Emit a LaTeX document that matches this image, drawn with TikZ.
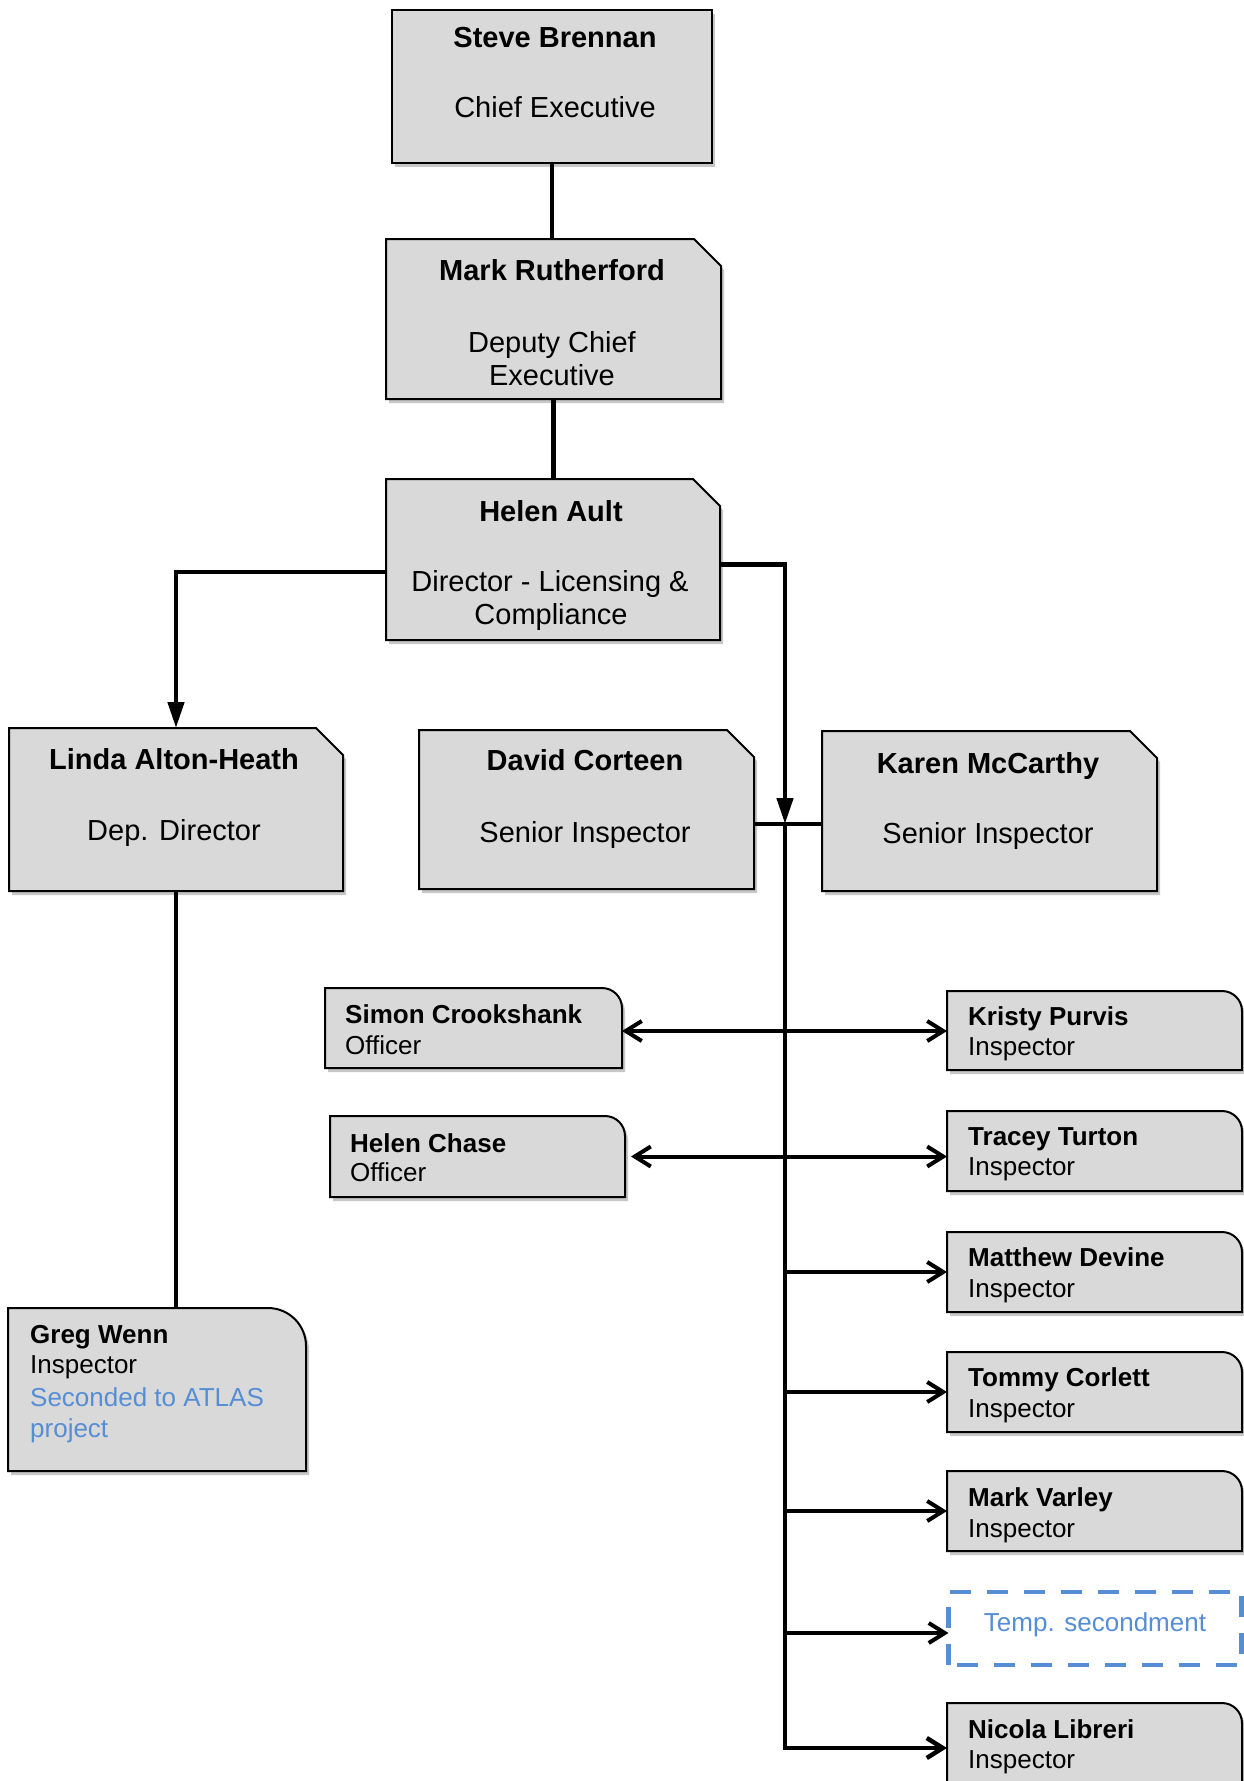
\documentclass[tikz,border=0pt]{standalone}
\usepackage{fontspec}
\setmainfont{Liberation Sans}
\usetikzlibrary{arrows.meta,calc}
\definecolor{boxgray}{HTML}{D9D9D9}
\definecolor{linkblue}{HTML}{558ED5}
\tikzset{
  boxn/.style={rectangle, inner sep=0pt, outer sep=0pt},
  boxst/.style={fill=boxgray, draw=black, line width=2pt},
  shadowst/.style={fill=black, fill opacity=0.22, draw=none, transform canvas={xshift=3pt,yshift=-4pt}},
  dashst/.style={draw=linkblue, line width=4.5pt, dash pattern=on 21pt off 16pt},
  nm/.style={font=\fontsize{29}{34}\selectfont\bfseries, inner sep=0pt, anchor=base},
  rl/.style={font=\fontsize{29}{34}\selectfont, inner sep=0pt, anchor=base},
  snm/.style={font=\fontsize{26}{31}\selectfont\bfseries, inner sep=0pt, anchor=base west},
  srl/.style={font=\fontsize{26}{31}\selectfont, inner sep=0pt, anchor=base west},
  conn/.style={line width=4.5pt},
  sconn/.style={line width=4pt},
  bigtip/.style={-{Triangle[length=26pt,width=16pt]}},
  barb/.style={-{Straight Barb[length=16pt,width=20pt]}},
  dbarb/.style={{Straight Barb[length=16pt,width=20pt]}-{Straight Barb[length=16pt,width=20pt]}}
}
\newcommand\chamshape[2]{\path[#2] (#1.south west) -- (#1.north west) -- ($(#1.north east)+(-27,0)$) -- ($(#1.north east)+(0,27)$) -- (#1.south east) -- cycle;}
\newcommand\rectshape[2]{\path[#2] (#1.south west) rectangle (#1.north east);}
\newcommand\roundshape[3]{\path[#2] (#1.south west) -- (#1.north west) -- ($(#1.north east)+(-#3,0)$) arc[start angle=90,end angle=0,radius=#3pt] -- (#1.south east) -- cycle;}
\begin{document}
\begin{tikzpicture}[x=1pt,y=-1pt]
\useasboundingbox (0,0) rectangle (1243,1781);
\fill[white] (0,0) rectangle (1243,1781);
% box nodes
\node[boxn, minimum width=320pt, minimum height=153pt] (sb) at (552,86.5) {};
\node[boxn, minimum width=335pt, minimum height=160pt] (mr) at (553.5,319) {};
\node[boxn, minimum width=334pt, minimum height=161pt] (ha) at (553,559.5) {};
\node[boxn, minimum width=334pt, minimum height=163pt] (la) at (176,809.5) {};
\node[boxn, minimum width=335pt, minimum height=159pt] (dc) at (586.5,809.5) {};
\node[boxn, minimum width=335pt, minimum height=160pt] (km) at (989.5,811) {};
\node[boxn, minimum width=297pt, minimum height=80pt] (sc) at (473.5,1028) {};
\node[boxn, minimum width=295pt, minimum height=81pt] (hc) at (477.5,1156.5) {};
\node[boxn, minimum width=295pt, minimum height=79pt] (kp) at (1094.5,1030.5) {};
\node[boxn, minimum width=295pt, minimum height=80pt] (tt) at (1094.5,1151) {};
\node[boxn, minimum width=295pt, minimum height=80pt] (md) at (1094.5,1272) {};
\node[boxn, minimum width=295pt, minimum height=80pt] (tc) at (1094.5,1392) {};
\node[boxn, minimum width=295pt, minimum height=80pt] (mv) at (1094.5,1511) {};
\node[boxn, minimum width=293pt, minimum height=73pt] (ts) at (1095,1628.5) {};
\node[boxn, minimum width=295pt, minimum height=90pt] (nl) at (1094.5,1748) {};
\node[boxn, minimum width=298pt, minimum height=163pt] (gw) at (157,1389.5) {};
% shapes
\rectshape{sb}{shadowst}\rectshape{sb}{boxst}
\chamshape{mr}{shadowst}\chamshape{mr}{boxst}
\chamshape{ha}{shadowst}\chamshape{ha}{boxst}
\chamshape{la}{shadowst}\chamshape{la}{boxst}
\chamshape{dc}{shadowst}\chamshape{dc}{boxst}
\chamshape{km}{shadowst}\chamshape{km}{boxst}
\roundshape{sc}{shadowst}{20}\roundshape{sc}{boxst}{20}
\roundshape{hc}{shadowst}{20}\roundshape{hc}{boxst}{20}
\roundshape{kp}{shadowst}{20}\roundshape{kp}{boxst}{20}
\roundshape{tt}{shadowst}{20}\roundshape{tt}{boxst}{20}
\roundshape{md}{shadowst}{20}\roundshape{md}{boxst}{20}
\roundshape{tc}{shadowst}{20}\roundshape{tc}{boxst}{20}
\roundshape{mv}{shadowst}{20}\roundshape{mv}{boxst}{20}
\roundshape{nl}{shadowst}{20}\roundshape{nl}{boxst}{20}
\roundshape{gw}{shadowst}{38}\roundshape{gw}{boxst}{38}
\rectshape{ts}{dashst}
% texts
\node[nm] (sbn) at (555,47) {Steve Brennan};
\node[rl] (sbr) at (555,117) {Chief Executive};
\node[nm] (mrn) at (552,280) {Mark Rutherford};
\node[rl] (mrr) at (552,352) {Deputy Chief};
\node[rl] (mrr2) at (552,385) {Executive};
\node[nm] (han) at (551,521) {Helen Ault};
\node[rl] (har) at (550,591) {Director - Licensing \&};
\node[rl] (har2) at (551,624) {Compliance};
\node[nm] (lan) at (174,769) {Linda Alton-Heath};
\node[rl] (lar) at (174,840) {Dep. Director};
\node[nm] (dcn) at (585,770) {David Corteen};
\node[rl] (dcr) at (585,842) {Senior Inspector};
\node[nm] (kmn) at (988,773) {Karen McCarthy};
\node[rl] (kmr) at (988,843) {Senior Inspector};
\node[snm] (scn) at (345,1023) {Simon Crookshank};
\node[srl] (scr) at (345,1054) {Officer};
\node[snm] (hcn) at (350,1152) {Helen Chase};
\node[srl] (hcr) at (350,1181) {Officer};
\node[snm] (kpn) at (968,1025) {Kristy Purvis};
\node[srl] (kpr) at (968,1055) {Inspector};
\node[snm] (ttn) at (968,1145) {Tracey Turton};
\node[srl] (ttr) at (968,1175) {Inspector};
\node[snm] (mdn) at (968,1266) {Matthew Devine};
\node[srl] (mdr) at (968,1297) {Inspector};
\node[snm] (tcn) at (968,1386) {Tommy Corlett};
\node[srl] (tcr) at (968,1417) {Inspector};
\node[snm] (mvn) at (968,1506) {Mark Varley};
\node[srl] (mvr) at (968,1537) {Inspector};
\node[srl, anchor=base, text=linkblue] (tsn) at (1095,1631) {Temp. secondment};
\node[snm] (nln) at (968,1738) {Nicola Libreri};
\node[srl] (nlr) at (968,1768) {Inspector};
\node[snm] (gwn) at (30,1343) {Greg Wenn};
\node[srl] (gwr) at (30,1373) {Inspector};
\node[srl, text=linkblue] (gwr2) at (30,1406) {Seconded to ATLAS};
\node[srl, text=linkblue] (gwr3) at (30,1437) {project};
% connectors
\coordinate (jn) at (785,824);
\coordinate (tsin) at ($(ts.west)+(0,4.5)$);
\coordinate (scout) at ($(sc.east)+(0,3)$);
\draw[conn] (sb.south) -- (sb.south |- mr.north);
\draw[conn] (mr.south) -- (mr.south |- ha.north);
\draw[conn, bigtip] ($(ha.west)+(0,12.5)$) -| (la.north);
\draw[conn, bigtip] ($(ha.east)+(0,5)$) -| (jn);
\draw[conn] (dc.east |- jn) -- (km.west |- jn);
\draw[conn, barb] (jn) |- (nl.west);
\draw[sconn, barb] (md.west -| jn) -- (md.west);
\draw[sconn, barb] (tc.west -| jn) -- (tc.west);
\draw[sconn, barb] (mv.west -| jn) -- (mv.west);
\draw[sconn, barb] (tsin -| jn) -- (tsin);
\draw[sconn, dbarb] (scout) -- (scout -| kp.west);
\draw[sconn, dbarb] ($(hc.east)+(6,0)$) -- (hc.east -| tt.west);
\draw[conn] (la.south) -- (la.south |- gw.north);
\end{tikzpicture}
\end{document}
